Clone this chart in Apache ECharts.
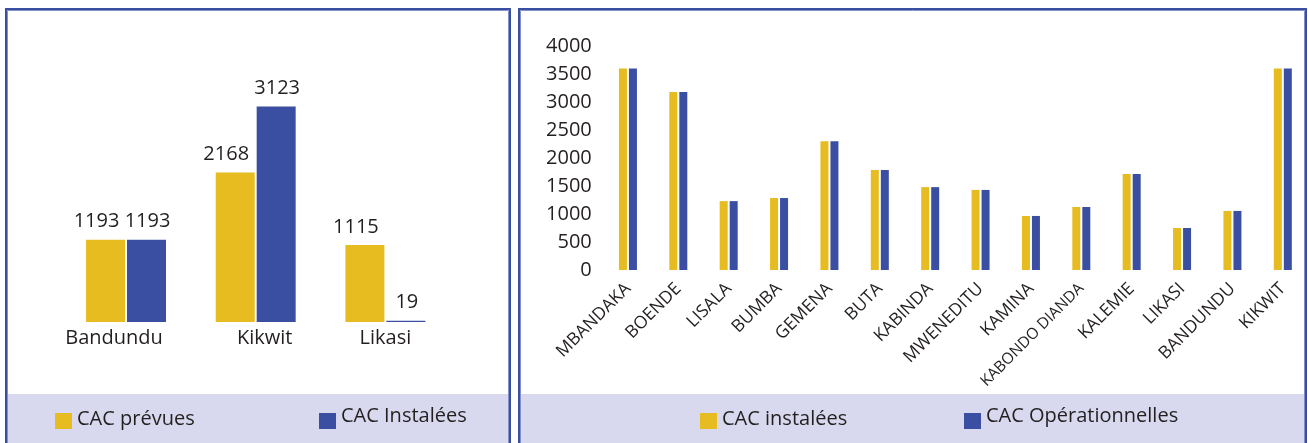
<!DOCTYPE html>
<html>
<head>
<meta charset="utf-8">
<title>CAC</title>
<script src="https://cdn.jsdelivr.net/npm/echarts@6/dist/echarts.min.js"></script>
<style>
  html, body { margin: 0; padding: 0; background: #ffffff; }
  #chart { width: 1308px; height: 443px; }
</style>
</head>
<body>
<div id="chart"></div>
<script>
// Left panel: planned vs installed CAC in three towns
const townCategories = ['Bandundu', 'Kikwit', 'Likasi'];
const cacPrevues = [1193, 2168, 1115];
const cacInstalees = [1193, 3123, 19];

// Right panel: installed vs operational CAC per site
const siteCategories = ['MBANDAKA', 'BOENDE', 'LISALA', 'BUMBA', 'GEMENA', 'BUTA', 'KABINDA',
  'MWENEDITU', 'KAMINA', 'KABONDO DIANDA', 'KALEMIE', 'LIKASI', 'BANDUNDU', 'KIKWIT'];
const siteInstalees = [3600, 3180, 1230, 1285, 2300, 1785, 1480, 1430, 965, 1125, 1715, 750, 1055, 3600];
const siteOperationnelles = [3600, 3180, 1230, 1285, 2300, 1785, 1480, 1430, 965, 1125, 1715, 750, 1055, 3600];
const siteTicks = [0, 500, 1000, 1500, 2000, 2500, 3000, 3500, 4000];

const YELLOW = '#e6bc20';
const BLUE = '#3a4fa2';
const TEXT = '#231f20';
const FONT = 'Open Sans';
const BAND = '#d8d9ee';

const chart = echarts.init(document.getElementById('chart'), null, { renderer: 'canvas' });

function panel(x0, x1) {
  // background band for the legend and the double blue frame
  return [
    { type: 'rect', shape: { x: x0 + 3, y: 394, width: x1 - x0 - 6, height: 60 },
      style: { fill: BAND }, z: -10 },
    { type: 'rect', shape: { x: x0 + 1, y: 9, width: x1 - x0 - 2, height: 460 },
      style: { fill: null, stroke: '#3b4fa1', lineWidth: 2 }, z: 10 },
    { type: 'rect', shape: { x: x0 + 2.5, y: 10.5, width: x1 - x0 - 5, height: 460 },
      style: { fill: null, stroke: '#8290cc', lineWidth: 1 }, z: 10 }
  ];
}

// one legend entry; "lift" raises the text a little above the swatch centre
function legend(name, left, lift) {
  return {
    data: [name], left: left, top: 411 - lift / 2, padding: 0,
    itemWidth: 17, itemHeight: 16, icon: 'rect',
    selectedMode: false,
    formatter: n => '{t|' + n + '}',
    textStyle: {
      fontFamily: FONT, fontSize: 20, color: TEXT,
      rich: { t: { fontFamily: FONT, fontSize: 20, color: TEXT, padding: [0, 0, lift, 0] } }
    }
  };
}

const valueLabel = { show: true, position: 'top', distance: 8, fontFamily: FONT, fontSize: 20, color: TEXT };
const townLabelStyle = { fontFamily: FONT, fontSize: 20, color: TEXT };

const option = {
  animation: false,
  textStyle: { fontFamily: FONT },
  graphic: [].concat(panel(5, 511), panel(518, 1307)),
  legend: [
    legend('CAC prévues', 55, 4),
    legend('CAC Instalées', 319, 9),
    legend('CAC instalées', 700, 4),
    legend('CAC Opérationnelles', 964, 9)
  ],
  grid: [
    { left: 61.2, width: 389, top: 46, height: 276 },
    { left: 602.75, width: 707, top: 46, height: 224 }
  ],
  xAxis: [
    {
      type: 'category', gridIndex: 0, data: townCategories,
      axisLine: { show: false }, axisTick: { show: false },
      axisLabel: {
        fontFamily: FONT, fontSize: 20, color: TEXT, margin: 6, interval: 0,
        // town names sit slightly off their bar pairs
        formatter: (v, i) => '{c' + i + '|' + v + '}',
        rich: {
          c0: Object.assign({ padding: [0, 24, 0, 0] }, townLabelStyle),
          c1: Object.assign({ padding: [0, 0, 0, 18] }, townLabelStyle),
          c2: Object.assign({}, townLabelStyle)
        }
      }
    },
    {
      type: 'category', gridIndex: 1, data: siteCategories,
      axisLine: { show: false }, axisTick: { show: false },
      axisLabel: {
        fontFamily: FONT, fontSize: 17.5, color: TEXT, margin: 16, rotate: 45, interval: 0,
        // long two-word site names are set a little tighter
        formatter: v => (v.length > 12 ? '{s|' + v + '}' : v),
        rich: { s: { fontFamily: FONT, fontSize: 15.5, color: TEXT } }
      }
    }
  ],
  yAxis: [
    {
      type: 'value', gridIndex: 0, min: 0, max: 4000, show: false,
      splitLine: { show: false }
    },
    {
      type: 'value', gridIndex: 1, min: siteTicks[0], max: siteTicks[siteTicks.length - 1], interval: 500,
      axisLine: { show: false }, axisTick: { show: false }, splitLine: { show: false },
      axisLabel: {
        fontFamily: FONT, fontSize: 20, color: TEXT, margin: 11, padding: [0, 0, 4, 0],
        formatter: v => String(v)
      }
    }
  ],
  series: [
    {
      name: 'CAC prévues', type: 'bar', xAxisIndex: 0, yAxisIndex: 0,
      data: cacPrevues, barWidth: 39, barGap: '5%',
      itemStyle: { color: YELLOW },
      label: Object.assign({ offset: [-9, 0] }, valueLabel)
    },
    {
      name: 'CAC Instalées', type: 'bar', xAxisIndex: 0, yAxisIndex: 0,
      data: cacInstalees, barWidth: 39, barGap: '5%',
      itemStyle: { color: BLUE },
      label: Object.assign({ offset: [1, 0] }, valueLabel)
    },
    {
      name: 'CAC instalées', type: 'bar', xAxisIndex: 1, yAxisIndex: 1,
      data: siteInstalees, barWidth: 8, barGap: '25%',
      itemStyle: { color: YELLOW }
    },
    {
      name: 'CAC Opérationnelles', type: 'bar', xAxisIndex: 1, yAxisIndex: 1,
      data: siteOperationnelles, barWidth: 8, barGap: '25%',
      itemStyle: { color: BLUE }
    }
  ]
};

chart.setOption(option);
</script>
</body>
</html>
